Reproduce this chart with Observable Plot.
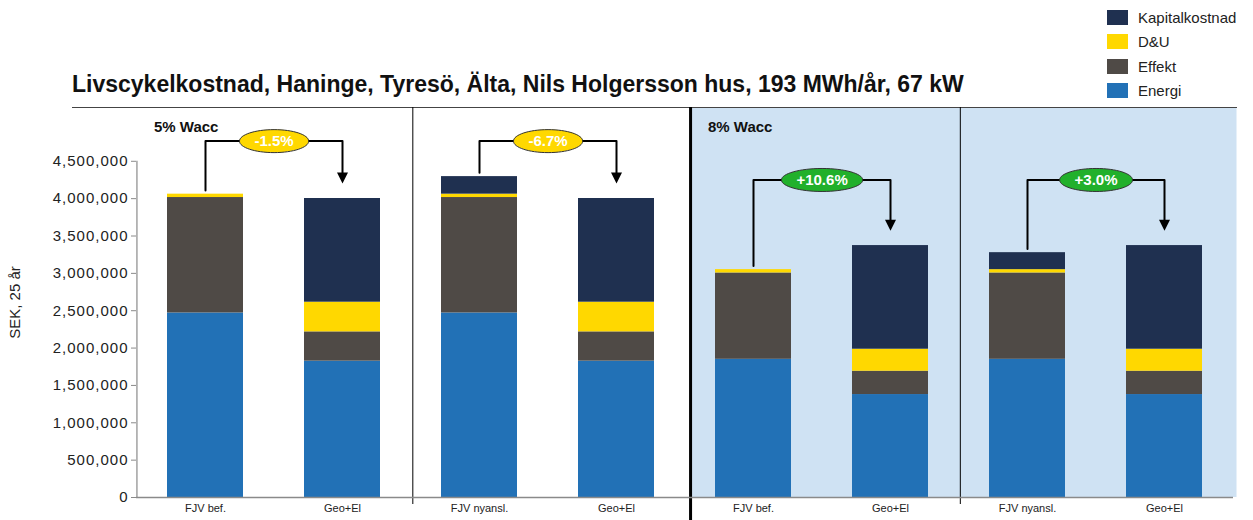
<!DOCTYPE html>
<html>
<head>
<meta charset="utf-8">
<script src="https://cdn.jsdelivr.net/npm/d3@7"></script>
<script src="https://cdn.jsdelivr.net/npm/@observablehq/plot@0.6"></script>
<style>
  body { margin: 0; background: #fff; font-family: "Liberation Sans", Arial, sans-serif; }
  #wrap { position: relative; width: 1253px; height: 520px; overflow: hidden; }
  #chart { position: absolute; left: 0; top: 0; }
  #title { position: absolute; left: 72px; top: 73px; font: bold 23px "Liberation Sans", Arial, sans-serif; line-height: 23px; white-space: nowrap; color: #111; }
  #legend { position: absolute; left: 1107px; top: 5px; }
  .lrow { display: flex; align-items: center; height: 24.5px; }
  .lsw { width: 21px; height: 15px; margin-right: 10px; }
  .ltx { font-size: 15px; color: #222; white-space: nowrap; }
  g[aria-label="y-axis tick label"] text { letter-spacing: 1px; }
</style>
</head>
<body>
<div id="wrap">
  <div id="chart"></div>
  <div id="title"></div>
  <div id="legend"></div>
</div>
<script>
// ---- data ----
const titleText = "Livscykelkostnad, Haninge, Tyresö, Älta, Nils Holgersson hus, 193 MWh/år, 67 kW";
const yLabel = "SEK, 25 år";
const scenario = ["FJV bef.", "Geo+El", "FJV nyansl.", "Geo+El", "FJV bef.", "Geo+El", "FJV nyansl.", "Geo+El"];
const wacc = ["5% Wacc", "5% Wacc", "5% Wacc", "5% Wacc", "8% Wacc", "8% Wacc", "8% Wacc", "8% Wacc"];
const series = ["Energi", "Effekt", "D&U", "Kapitalkostnad"];
const seriesColors = ["#2271b6", "#4f4a46", "#ffd800", "#1f3050"];
const energi  = [2470000, 1825000, 2470000, 1825000, 1850000, 1378000, 1850000, 1378000];
const effekt  = [1545000,  392000, 1545000,  392000, 1155000,  312000, 1155000,  312000];
const du      = [  45000,  397000,   45000,  397000,   45000,  295000,   45000,  295000];
const kapital = [      0, 1388000,  235000, 1388000,       0, 1387000,  227000, 1387000];
const yTicks = [0, 500000, 1000000, 1500000, 2000000, 2500000, 3000000, 3500000, 4000000, 4500000];
const yMax = 5220000;
// comparisons (annotations)
const compFrom = [0, 2, 4, 6];
const compTo = [1, 3, 5, 7];
const compLabel = ["-1.5%", "-6.7%", "+10.6%", "+3.0%"];
const bracketLevel = [4770000, 4770000, 4250000, 4250000];
const waccLabelLevel = 4960000;

// ---- layout ----
const W = 1253, H = 520, mL = 136, mR = 20, mT = 107, mB = 23;
const padIn = 0.445, padOut = 0.2225;
const n = scenario.length;
const step = (W - mL - mR) / (n - padIn + 2 * padOut);
const bw = step * (1 - padIn);
const pxPerUnit = (H - mT - mB) / yMax;
const gap = step - bw;
const shift8 = 6; // the 8% panel divider sits a little right of the band boundary

const valuesBySeries = [energi, effekt, du, kapital];
const tidy = [];
for (let i = 0; i < n; i++) series.forEach((s, k) => tidy.push({i, series: s, value: valuesBySeries[k][i]}));
const totals = d3.range(n).map(i => valuesBySeries.reduce((a, arr) => a + arr[i], 0));

// connectors
const linePts = [];
compFrom.forEach((f, k) => {
  const t = compTo[k];
  const tip = totals[t] + 200000;
  linePts.push({k, i: f, v: totals[f] + 50000});
  linePts.push({k, i: f, v: bracketLevel[k]});
  linePts.push({k, i: t, v: bracketLevel[k]});
  linePts.push({k, i: t, v: tip + 6 / pxPerUnit});
});
const tips = compTo.map((t, k) => ({i: t, v: totals[t] + 200000}));

const canvas = document.createElement("canvas").getContext("2d");
canvas.font = "bold 15px 'Liberation Sans', Arial, sans-serif";

function ellipseSymbol(rx, ry) {
  const c = 0.5522847;
  return {draw(ctx) {
    ctx.moveTo(rx, 0);
    ctx.bezierCurveTo(rx, c * ry, c * rx, ry, 0, ry);
    ctx.bezierCurveTo(-c * rx, ry, -rx, c * ry, -rx, 0);
    ctx.bezierCurveTo(-rx, -c * ry, -c * rx, -ry, 0, -ry);
    ctx.bezierCurveTo(c * rx, -ry, rx, -c * ry, rx, 0);
    ctx.closePath();
  }};
}
const triDown = {draw(ctx) { ctx.moveTo(-5.5, -11); ctx.lineTo(5.5, -11); ctx.lineTo(0, 0); ctx.closePath(); }};

const ellipseMarks = compFrom.map((f, k) => {
  const w = canvas.measureText(compLabel[k]).width + 30;
  const positive = compLabel[k].startsWith("+");
  return Plot.dot([{i: f, v: bracketLevel[k]}], {
    x: "i", y: "v", dx: step / 2, symbol: ellipseSymbol(w / 2, 11.5),
    fill: positive ? "#21b02b" : "#ffd800", stroke: "#333", strokeWidth: 1
  });
});

const shaded = d3.range(n).filter(i => wacc[i] === "8% Wacc");
const groupStarts = d3.range(n).filter(i => i === 0 || wacc[i] !== wacc[i - 1]);
const boundaries = d3.range(1, n - 1, 2);
const groupBoundary = groupStarts[1] - 1;

// thin separators snapped to the pixel grid
function bandCenter(i) { return mL + padOut * step + i * step + bw / 2; }
const thinSeparators = boundaries.filter(b => b !== groupBoundary).map(b => {
  const pos = bandCenter(b) + step / 2 + 0.5;
  const snapped = Math.round(pos) + 0.5;
  return Plot.ruleX([b], {x: d => d, y1: yMax, y2: 0, dx: step / 2 + (snapped - pos) + 1, stroke: "#000", strokeWidth: 1, insetBottom: -7});
});

const chart = Plot.plot({
  width: W, height: H,
  marginLeft: mL, marginRight: mR, marginTop: mT, marginBottom: mB,
  style: {fontFamily: "'Liberation Sans', Arial, sans-serif", fontSize: "11px", color: "#222", overflow: "visible"},
  x: {type: "band", domain: d3.range(n), paddingInner: padIn, paddingOuter: padOut},
  y: {domain: [0, yMax]},
  color: {domain: series, range: seriesColors},
  marks: [
    // shaded 8% background (overlapping pieces to avoid seams)
    Plot.barY(shaded.slice(0, 1), {x: d => d, y1: 0, y2: yMax, fill: "#cfe2f3", insetLeft: -gap / 2 + shift8, insetRight: -gap / 2 - 1.5}),
    Plot.barY(shaded.slice(1, -1), {x: d => d, y1: 0, y2: yMax, fill: "#cfe2f3", insetLeft: -gap / 2 - 1.5, insetRight: -gap / 2 - 1.5}),
    Plot.barY(shaded.slice(-1), {x: d => d, y1: 0, y2: yMax, fill: "#cfe2f3", insetLeft: -gap / 2 - 1.5, insetRight: -gap / 2 - 4}),
    // top border
    Plot.ruleY([yMax], {stroke: "#444", strokeWidth: 1, insetLeft: -(mL - 72), insetRight: -4}),
    // stacked bars
    Plot.barY(tidy, {x: "i", y: "value", fill: "series"}),
    // panel separators
    ...thinSeparators,
    Plot.ruleX([groupBoundary], {x: d => d, y1: yMax, y2: 0, dx: step / 2 + shift8 - 0.5, stroke: "#000", strokeWidth: 3, insetBottom: -30}),
    // axes lines
    Plot.ruleY([0], {stroke: "#8a8a8a", strokeWidth: 1.5}),
    Plot.ruleX([0], {x: d => d, y1: 0, y2: yTicks[yTicks.length - 1], dx: -(padOut * step + bw / 2), stroke: "#8a8a8a", strokeWidth: 1.2}),
    Plot.axisY({ticks: yTicks, tickFormat: d3.format(","), tickSize: 5, tickPadding: 3, fontSize: 15, stroke: "#8a8a8a", fill: "#222",
      label: yLabel, labelAnchor: "center", labelArrow: "none", labelOffset: 127}),
    Plot.axisX({tickSize: 0, tickPadding: 7, tickFormat: i => scenario[i], fontSize: 11, fill: "#222", label: null}),
    // group labels
    Plot.text(groupStarts.slice(0, 1), {x: d => d, y: waccLabelLevel, text: d => wacc[d], textAnchor: "start", dx: -step / 2 + 17,
      fontWeight: "bold", fontSize: 15, fill: "#111"}),
    Plot.text(groupStarts.slice(1), {x: d => d, y: waccLabelLevel, text: d => wacc[d], textAnchor: "start", dx: -step / 2 + 17 + shift8,
      fontWeight: "bold", fontSize: 15, fill: "#111"}),
    // connectors
    Plot.line(linePts, {x: "i", y: "v", z: "k", stroke: "#000", strokeWidth: 2}),
    Plot.dot(tips, {x: "i", y: "v", symbol: triDown, fill: "#000", stroke: "none"}),
    ...ellipseMarks,
    Plot.text(compFrom.map((f, k) => ({i: f, v: bracketLevel[k], t: compLabel[k]})), {x: "i", y: "v", text: "t", dx: step / 2,
      fill: "#fff", fontWeight: "bold", fontSize: 15})
  ]
});
document.getElementById("chart").appendChild(chart);

document.getElementById("title").textContent = titleText;
const legend = document.getElementById("legend");
series.slice().reverse().forEach(s => {
  const row = document.createElement("div");
  row.className = "lrow";
  const sw = document.createElement("div");
  sw.className = "lsw";
  sw.style.background = seriesColors[series.indexOf(s)];
  const tx = document.createElement("div");
  tx.className = "ltx";
  tx.textContent = s;
  row.appendChild(sw); row.appendChild(tx);
  legend.appendChild(row);
});
</script>
</body>
</html>
